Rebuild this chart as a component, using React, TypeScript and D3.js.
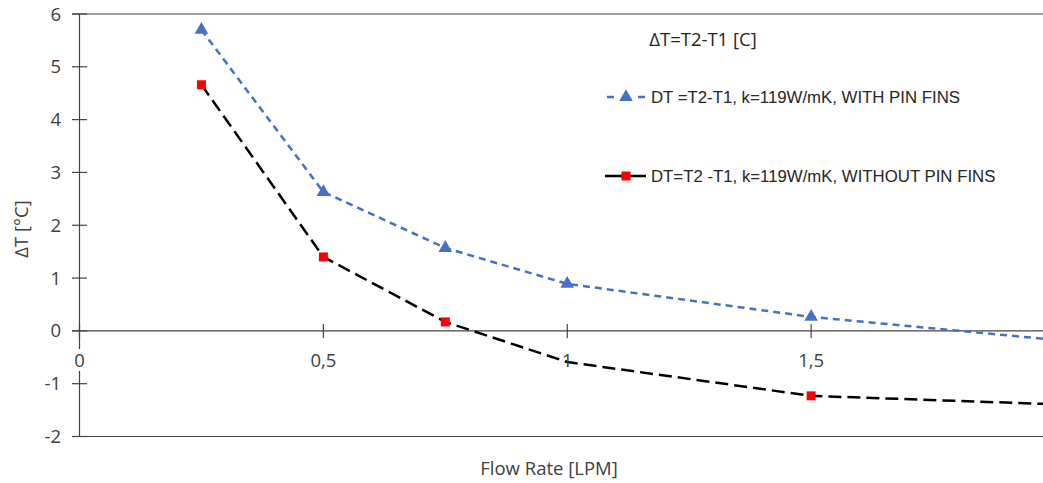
import React from "react";
import * as d3 from "d3";

const flowRates = [0.25, 0.5, 0.75, 1.0, 1.5, 2.0];
const withPinFins = [5.7, 2.63, 1.57, 0.89, 0.265, -0.17];
const withPinFinsMarker = [true, true, true, true, true, false];
const withoutPinFins = [4.66, 1.4, 0.17, -0.59, -1.23, -1.39];
const withoutPinFinsMarker = [true, true, true, false, true, false];
const yTicks = [-2, -1, 0, 1, 2, 3, 4, 5, 6];
const xTicks = [0, 0.5, 1, 1.5];
const xTickLabels = ["0", "0,5", "1", "1,5"];
const seriesNames = [
  "DT =T2-T1, k=119W/mK, WITH PIN FINS",
  "DT=T2 -T1, k=119W/mK, WITHOUT PIN FINS",
];
const chartTitle = "ΔT=T2-T1 [C]";
const xTitle = "Flow Rate [LPM]";
const yTitle = "ΔT [°C]";

const W = 1043;
const H = 483;
const tickFont = "'Open Sans', 'Noto Sans', sans-serif";
const legFont = "'Liberation Sans', Arial, sans-serif";

export default function App() {
  const x = d3.scaleLinear().domain([0, 2]).range([79.5, 1055]);
  const y = d3.scaleLinear().domain([-2, 6]).range([436.5, 14]);
  const axisColor = "#444";
  const blue = "#4472C4";
  const red = "#FF0000";

  const lineGen = d3
    .line<[number, number]>()
    .x((d) => x(d[0]))
    .y((d) => y(d[1]));

  const blueData = flowRates.map((f, i) => [f, withPinFins[i]] as [number, number]);
  const redData = flowRates.map((f, i) => [f, withoutPinFins[i]] as [number, number]);
  const tri = d3.symbol().type(d3.symbolTriangle).size(80)();

  return (
    <div style={{ position: "absolute", left: 0, top: 0 }}>
      <svg width={W} height={H} style={{ display: "block", background: "#fff" }}>
        <defs>
          <clipPath id="plotclip">
            <rect x={0} y={0} width={W} height={H} />
          </clipPath>
        </defs>
        {[6, 0, -2].map((v) => (
          <line key={"h" + v} x1={72} x2={W} y1={y(v)} y2={y(v)} stroke={axisColor} strokeWidth={1.2} />
        ))}
        <line x1={x(0)} x2={x(0)} y1={y(6)} y2={y(-2)} stroke={axisColor} strokeWidth={1.2} />
        {yTicks.map((v) => (
          <g key={"yt" + v}>
            <line x1={72} x2={87} y1={y(v)} y2={y(v)} stroke={axisColor} strokeWidth={1.2} />
            <text x={61} y={y(v) + 6.5} textAnchor="end" fontFamily={tickFont} fontSize={18.5} fill="#404040">
              {v}
            </text>
          </g>
        ))}
        {xTicks.map((v) => (
          <line key={"xt" + v} x1={x(v)} x2={x(v)} y1={y(0) - 7} y2={y(0) + 7} stroke={axisColor} strokeWidth={1.2} />
        ))}
        <g clipPath="url(#plotclip)">
          <path d={lineGen(blueData) || ""} fill="none" stroke={blue} strokeWidth={2.5} strokeDasharray="7,5" />
          <path d={lineGen(redData) || ""} fill="none" stroke="#000" strokeWidth={2.5} strokeDasharray="13,6" />
          {blueData.map((d, i) =>
            withPinFinsMarker[i] ? (
              <path key={"bm" + i} d={tri || ""} transform={`translate(${x(d[0])},${y(d[1])})`} fill={blue} />
            ) : null
          )}
          {redData.map((d, i) =>
            withoutPinFinsMarker[i] ? (
              <rect key={"rm" + i} x={x(d[0]) - 4.5} y={y(d[1]) - 4.5} width={9} height={9} fill={red} />
            ) : null
          )}
        </g>
        {xTicks.map((v, i) => (
          <g key={"xl" + v}>
            {i === 0 ? <rect x={x(v) - 7} y={349} width={14} height={22} fill="#fff" /> : null}
            <text x={x(v)} y={367} textAnchor="middle" fontFamily={tickFont} fontSize={18.5} fill="#404040">
              {xTickLabels[i]}
            </text>
          </g>
        ))}
        <text x={703} y={46} textAnchor="middle" fontFamily={tickFont} fontSize={18.5} fill="#262626">
          {chartTitle}
        </text>
        <text x={549} y={475} textAnchor="middle" fontFamily={tickFont} fontSize={18.5} fill="#404040">
          {xTitle}
        </text>
        <text
          transform={`translate(28,229) rotate(-90)`}
          textAnchor="middle"
          fontFamily={tickFont}
          fontSize={18.5}
          fill="#404040"
        >
          {yTitle}
        </text>
        <g>
          <line x1={607} x2={614} y1={97} y2={97} stroke={blue} strokeWidth={2.5} />
          <line x1={638} x2={645} y1={97} y2={97} stroke={blue} strokeWidth={2.5} />
          <path d={tri || ""} transform={`translate(626,97)`} fill={blue} />
          <text x={651} y={103} fontFamily={legFont} fontSize={16.8} fill="#262626">
            {seriesNames[0]}
          </text>
          <line x1={605} x2={646} y1={176} y2={176} stroke="#000" strokeWidth={2.5} />
          <rect x={621.5} y={171.5} width={9} height={9} fill={red} />
          <text x={651} y={182} fontFamily={legFont} fontSize={16.8} fill="#262626">
            {seriesNames[1]}
          </text>
        </g>
      </svg>
    </div>
  );
}
